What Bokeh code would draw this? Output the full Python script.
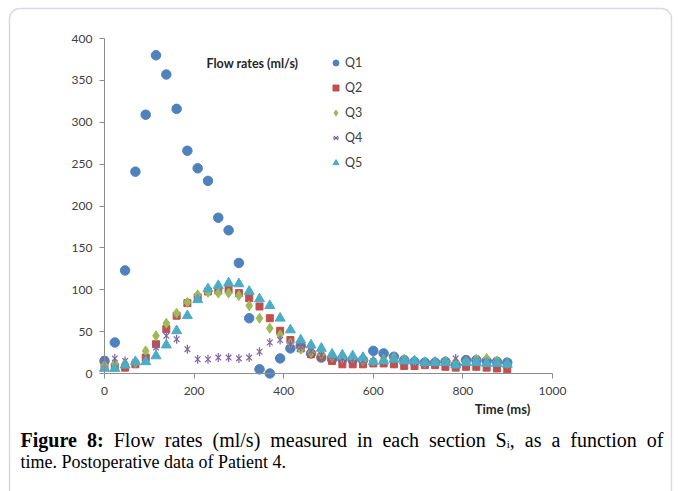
from bokeh.plotting import figure
from bokeh.models import (FixedTicker, Legend, LegendItem, Label, BoxAnnotation)
from bokeh.embed import file_html
from bokeh.resources import INLINE

# ---- data ----
times = [0, 23, 46, 69, 92, 115, 138, 161, 185, 208, 231, 254, 277, 300, 323, 346,
         369, 392, 415, 438, 461, 484, 508, 531, 554, 577, 600, 623, 646, 669, 692,
         715, 738, 761, 784, 807, 830, 853, 876, 899]
q1 = [15, 37, 123, 241, 309, 380, 357, 316, 266, 245, 230, 186, 171, 132, 66, 5,
      0, 18, 30, 33, 24, 19, 17, 17, 16, 16, 27, 24, 20, 16, 14, 13, 13, 14, 10,
      16, 16, 15, 14, 13]
q2 = [8, 8, 7, 11, 19, 35, 53, 69, 84, 91, 98, 99, 100, 96, 90, 80, 66, 51, 40,
      30, 23, 20, 15, 11, 11, 11, 12, 12, 11, 9, 9, 10, 10, 8, 7, 8, 8, 7, 6, 5]
q3 = [10, 12, 12, 13, 27, 45, 60, 72, 85, 94, 97, 96, 96, 93, 81, 66, 54, 46, 36,
      29, 25, 23, 20, 18, 18, 15, 15, 17, 19, 17, 15, 13, 14, 15, 14, 15, 17, 18,
      15, 12]
q4 = [17, 18, 15, 14, 17, 31, 45, 41, 29, 17, 17, 19, 19, 18, 19, 26, 37, 40, 35,
      32, 27, 22, 20, 18, 17, 15, 15, 17, 17, 15, 14, 13, 13, 14, 18, 16, 15, 14,
      13, 12]
q5 = [6, 6, 10, 14, 14, 21, 34, 51, 69, 88, 101, 105, 108, 107, 98, 89, 81, 66,
      52, 40, 34, 30, 23, 22, 21, 19, 14, 15, 17, 15, 15, 13, 13, 13, 10, 13, 13,
      12, 12, 11]
series_names = ["Q1", "Q2", "Q3", "Q4", "Q5"]
x_ticks = [0, 200, 400, 600, 800, 1000]
y_ticks = [0, 50, 100, 150, 200, 250, 300, 350, 400]

W, H = 678, 491
AL, AR, AT, AB = 104, 552, 38, 373  # pixel positions of x=0, x=1000, y=400, y=0

def X(px):
    return (px - AL) * 1000.0 / (AR - AL)

def Y(py):
    return (AB - py) * 400.0 / (AB - AT)

p = figure(width=W, height=H, output_backend="svg", toolbar_location=None,
           x_range=(X(0), X(W)), y_range=(Y(H), Y(0)),
           min_border=0, min_border_left=0, min_border_right=0,
           min_border_top=0, min_border_bottom=0)
p.background_fill_color = "white"
p.border_fill_color = "white"
p.outline_line_color = None
p.xgrid.grid_line_color = None
p.ygrid.grid_line_color = None

p.xaxis[0].fixed_location = 0
p.yaxis[0].fixed_location = 0
p.xaxis[0].bounds = (0, 1000)
p.yaxis[0].bounds = (0, 400)
for ax in (p.xaxis[0], p.yaxis[0]):
    ax.axis_line_color = "#8c8c8c"
    ax.major_tick_line_color = "#8c8c8c"
    ax.major_tick_out = 5
    ax.major_tick_in = 0
    ax.minor_tick_line_color = None
    ax.major_label_text_font = "Lato"
    ax.major_label_text_font_size = "12px"
    ax.major_label_text_color = "#404040"
p.xaxis.ticker = FixedTicker(ticks=x_ticks)
p.yaxis.ticker = FixedTicker(ticks=y_ticks)
p.xaxis.major_label_standoff = 8
p.yaxis.major_label_standoff = 7

r1 = p.scatter(times, q1, marker="circle", size=9.5, fill_color="#4f81bd", line_color="#4f81bd")
r2 = p.scatter(times, q2, marker="square", size=7, fill_color="#c0504d", line_color="#c0504d")
r3 = p.scatter(times, q3, marker="diamond", size=10, fill_color="#9bbb59", line_color="#9bbb59")
r4a = p.scatter(times, q4, marker="x", size=8, line_color="#8064a2", line_width=1.2)
r4b = p.scatter(times, q4, marker="dash", size=9, angle=1.5708, line_color="#8064a2", line_width=1.2)
r5 = p.scatter(times, q5, marker="triangle", size=10, fill_color="#4bacc6", line_color="#4bacc6")

legend = Legend(items=[LegendItem(label=series_names[0], renderers=[r1]),
                       LegendItem(label=series_names[1], renderers=[r2]),
                       LegendItem(label=series_names[2], renderers=[r3]),
                       LegendItem(label=series_names[3], renderers=[r4a, r4b]),
                       LegendItem(label=series_names[4], renderers=[r5])],
                location=(328, H - 55 - 115))
legend.glyph_width = 15
legend.glyph_height = 15
legend.label_height = 15
legend.spacing = 10
legend.padding = 0
legend.margin = 0
legend.label_standoff = 2
legend.border_line_color = None
legend.background_fill_alpha = 0
legend.label_text_font = "Lato"
legend.label_text_font_size = "12.5px"
legend.label_text_color = "#404040"
p.add_layout(legend, "center")

p.add_layout(Label(x=X(206), y=Y(63), text="Flow rates (ml/s)", text_font="Lato",
                   text_font_style="bold", text_font_size="12.5px", text_color="#262626",
                   text_baseline="middle", text_align="left"))
p.add_layout(Label(x=X(502), y=Y(408), text="Time (ms)", text_font="Lato",
                   text_font_style="bold", text_font_size="13px", text_color="#262626",
                   text_baseline="middle", text_align="center"))

# ---- caption (justified first line, Times metrics) ----
serif = "Liberation Serif"
REG = {' ': 250, 'a': 444, 'c': 444, 'd': 500, 'e': 444, 'f': 333, 'h': 500, 'i': 278,
       'l': 278, 'm': 778, 'n': 500, 'o': 500, 'r': 333, 's': 389, 't': 278, 'u': 500,
       'w': 722, 'F': 556, 'S': 556, '(': 333, ')': 333, '/': 278, ',': 250, '.': 250}
BLD = {'F': 611, 'i': 278, 'g': 500, 'u': 556, 'r': 444, 'e': 444, '8': 500, ':': 333}

def width(word, fs, bold=False):
    tbl = BLD if bold else REG
    return sum(tbl.get(ch, 500) for ch in word) * fs / 1000.0

FS1 = 20
base1, base2 = 439, 461
line1 = [("Figure", True), ("8:", True), ("Flow", False), ("rates", False),
         ("(ml/s)", False), ("measured", False), ("in", False), ("each", False),
         ("section", False), ("S", False), ("as", False), ("a", False),
         ("function", False), ("of", False)]
sub_w = 278 * 11 / 1000.0 + 250 * FS1 / 1000.0  # "i" subscript + ","
total = sum(width(w, FS1, b) for w, b in line1) + sub_w
gap = (663 - 20 - total) / (len(line1) - 1)
xpos = 20.0
for w, b in line1:
    p.add_layout(Label(x=X(xpos), y=Y(base1), text=w, text_font=serif,
                       text_font_style="bold" if b else "normal",
                       text_font_size="%dpx" % FS1, text_color="black",
                       text_baseline="alphabetic", text_align="left"))
    xpos += width(w, FS1, b)
    if w == "S":
        p.add_layout(Label(x=X(xpos), y=Y(base1 + 4), text="i", text_font=serif,
                           text_font_size="11px", text_color="black",
                           text_baseline="alphabetic", text_align="left"))
        xpos += 278 * 11 / 1000.0
        p.add_layout(Label(x=X(xpos), y=Y(base1), text=",", text_font=serif,
                           text_font_size="%dpx" % FS1, text_color="black",
                           text_baseline="alphabetic", text_align="left"))
        xpos += 250 * FS1 / 1000.0
    xpos += gap

p.add_layout(Label(x=X(20), y=Y(base2), text="time. Postoperative data of Patient 4.",
                   text_font=serif, text_font_size="18px", text_color="black",
                   text_baseline="alphabetic", text_align="left"))

p.add_layout(BoxAnnotation(left=X(9), right=X(671), top=Y(8), bottom=Y(505),
                           fill_alpha=0, line_color="#8080b8", line_width=1.5,
                           border_radius=10))

open("out.html", "w").write(file_html(p, INLINE))
